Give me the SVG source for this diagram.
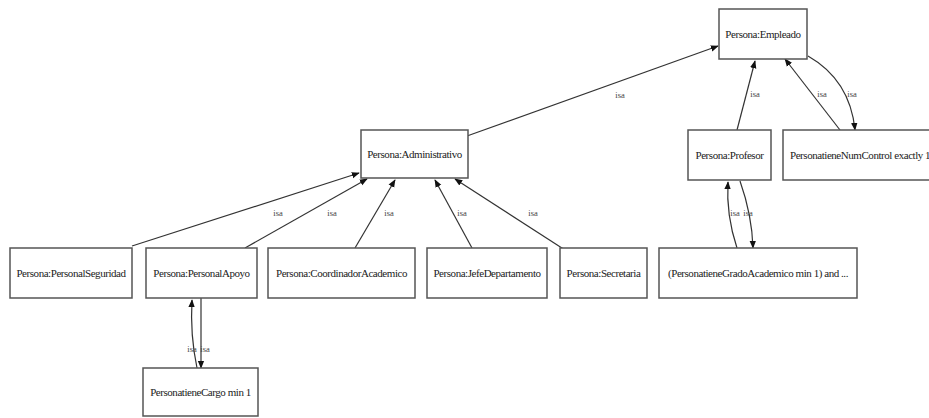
<svg xmlns="http://www.w3.org/2000/svg" width="929" height="418" viewBox="0 0 929 418">
<style>
.box{fill:#fff;stroke:#555;stroke-width:1.5}
.t{font-family:"Liberation Serif",serif;font-size:11px;fill:#222;text-anchor:middle;letter-spacing:-0.45px}
.e{fill:none;stroke:#333;stroke-width:1.2;marker-end:url(#ah)}
.l{font-family:"Liberation Serif",serif;font-size:8.5px;fill:#444;text-anchor:middle}
</style>
<defs>
<marker id="ah" viewBox="0 0 10 10" refX="9" refY="5" markerWidth="8" markerHeight="8" markerUnits="userSpaceOnUse" orient="auto">
<path d="M0,1 L10,5 L0,9 z" fill="#111"/>
</marker>
</defs>
<rect width="929" height="418" fill="#fff"/>
<g id="connectors">
<path class="e" d="M467,136 L718,46"/>
<path class="e" d="M737,130 L755,61"/>
<path class="e" d="M840,130 L785,59"/>
<path class="e" d="M808,56 Q850,80 855,130"/>
<path class="e" d="M132,246 L359,173"/>
<path class="e" d="M245,248 L367,179"/>
<path class="e" d="M355,248 L395,180"/>
<path class="e" d="M472,248 L435,180"/>
<path class="e" d="M565,250 L455,179"/>
<path class="e" d="M737,248 Q726,215 728,182"/>
<path class="e" d="M740,181 Q752,215 753,248"/>
<path class="e" d="M197,368 Q190,335 192,300"/>
<path class="e" d="M201,298 L201,368"/>
<text class="l" x="620" y="98">isa</text>
<text class="l" x="755" y="97">isa</text>
<text class="l" x="822" y="97">isa</text>
<text class="l" x="852" y="97">isa</text>
<text class="l" x="278" y="216">isa</text>
<text class="l" x="332" y="216">isa</text>
<text class="l" x="389" y="216">isa</text>
<text class="l" x="462" y="216">isa</text>
<text class="l" x="533" y="216">isa</text>
<text class="l" x="735" y="216">isa</text>
<text class="l" x="748" y="216">isa</text>
<text class="l" x="192" y="352">isa</text>
<text class="l" x="205" y="352">isa</text>
</g>
<g id="empleado"><rect class="box" x="719" y="9" width="88" height="50"/><text class="t" x="763" y="38">Persona:Empleado</text></g>
<g id="profesor"><rect class="box" x="688" y="130" width="83" height="50"/><text class="t" x="729.5" y="159">Persona:Profesor</text></g>
<g id="numcontrol"><rect class="box" x="783" y="130" width="160" height="50"/><text class="t" x="790" y="159" style="text-anchor:start">PersonatieneNumControl exactly 1</text></g>
<g id="administrativo"><rect class="box" x="361" y="130" width="107" height="48"/><text class="t" x="414.5" y="158">Persona:Administrativo</text></g>
<g id="seguridad"><rect class="box" x="10" y="248" width="122" height="50"/><text class="t" x="71" y="277">Persona:PersonalSeguridad</text></g>
<g id="apoyo"><rect class="box" x="146" y="248" width="111" height="50"/><text class="t" x="201.5" y="277">Persona:PersonalApoyo</text></g>
<g id="coordinador"><rect class="box" x="268" y="248" width="147" height="50"/><text class="t" x="341.5" y="277">Persona:CoordinadorAcademico</text></g>
<g id="jefe"><rect class="box" x="427" y="248" width="120" height="50"/><text class="t" x="487" y="277">Persona:JefeDepartamento</text></g>
<g id="secretaria"><rect class="box" x="560" y="248" width="87" height="50"/><text class="t" x="603.5" y="277">Persona:Secretaria</text></g>
<g id="grado"><rect class="box" x="659" y="248" width="198" height="50"/><text class="t" x="758" y="277">(PersonatieneGradoAcademico min 1) and ...</text></g>
<g id="cargo"><rect class="box" x="143" y="368" width="115" height="48"/><text class="t" x="200.5" y="396">PersonatieneCargo min 1</text></g>
</svg>
